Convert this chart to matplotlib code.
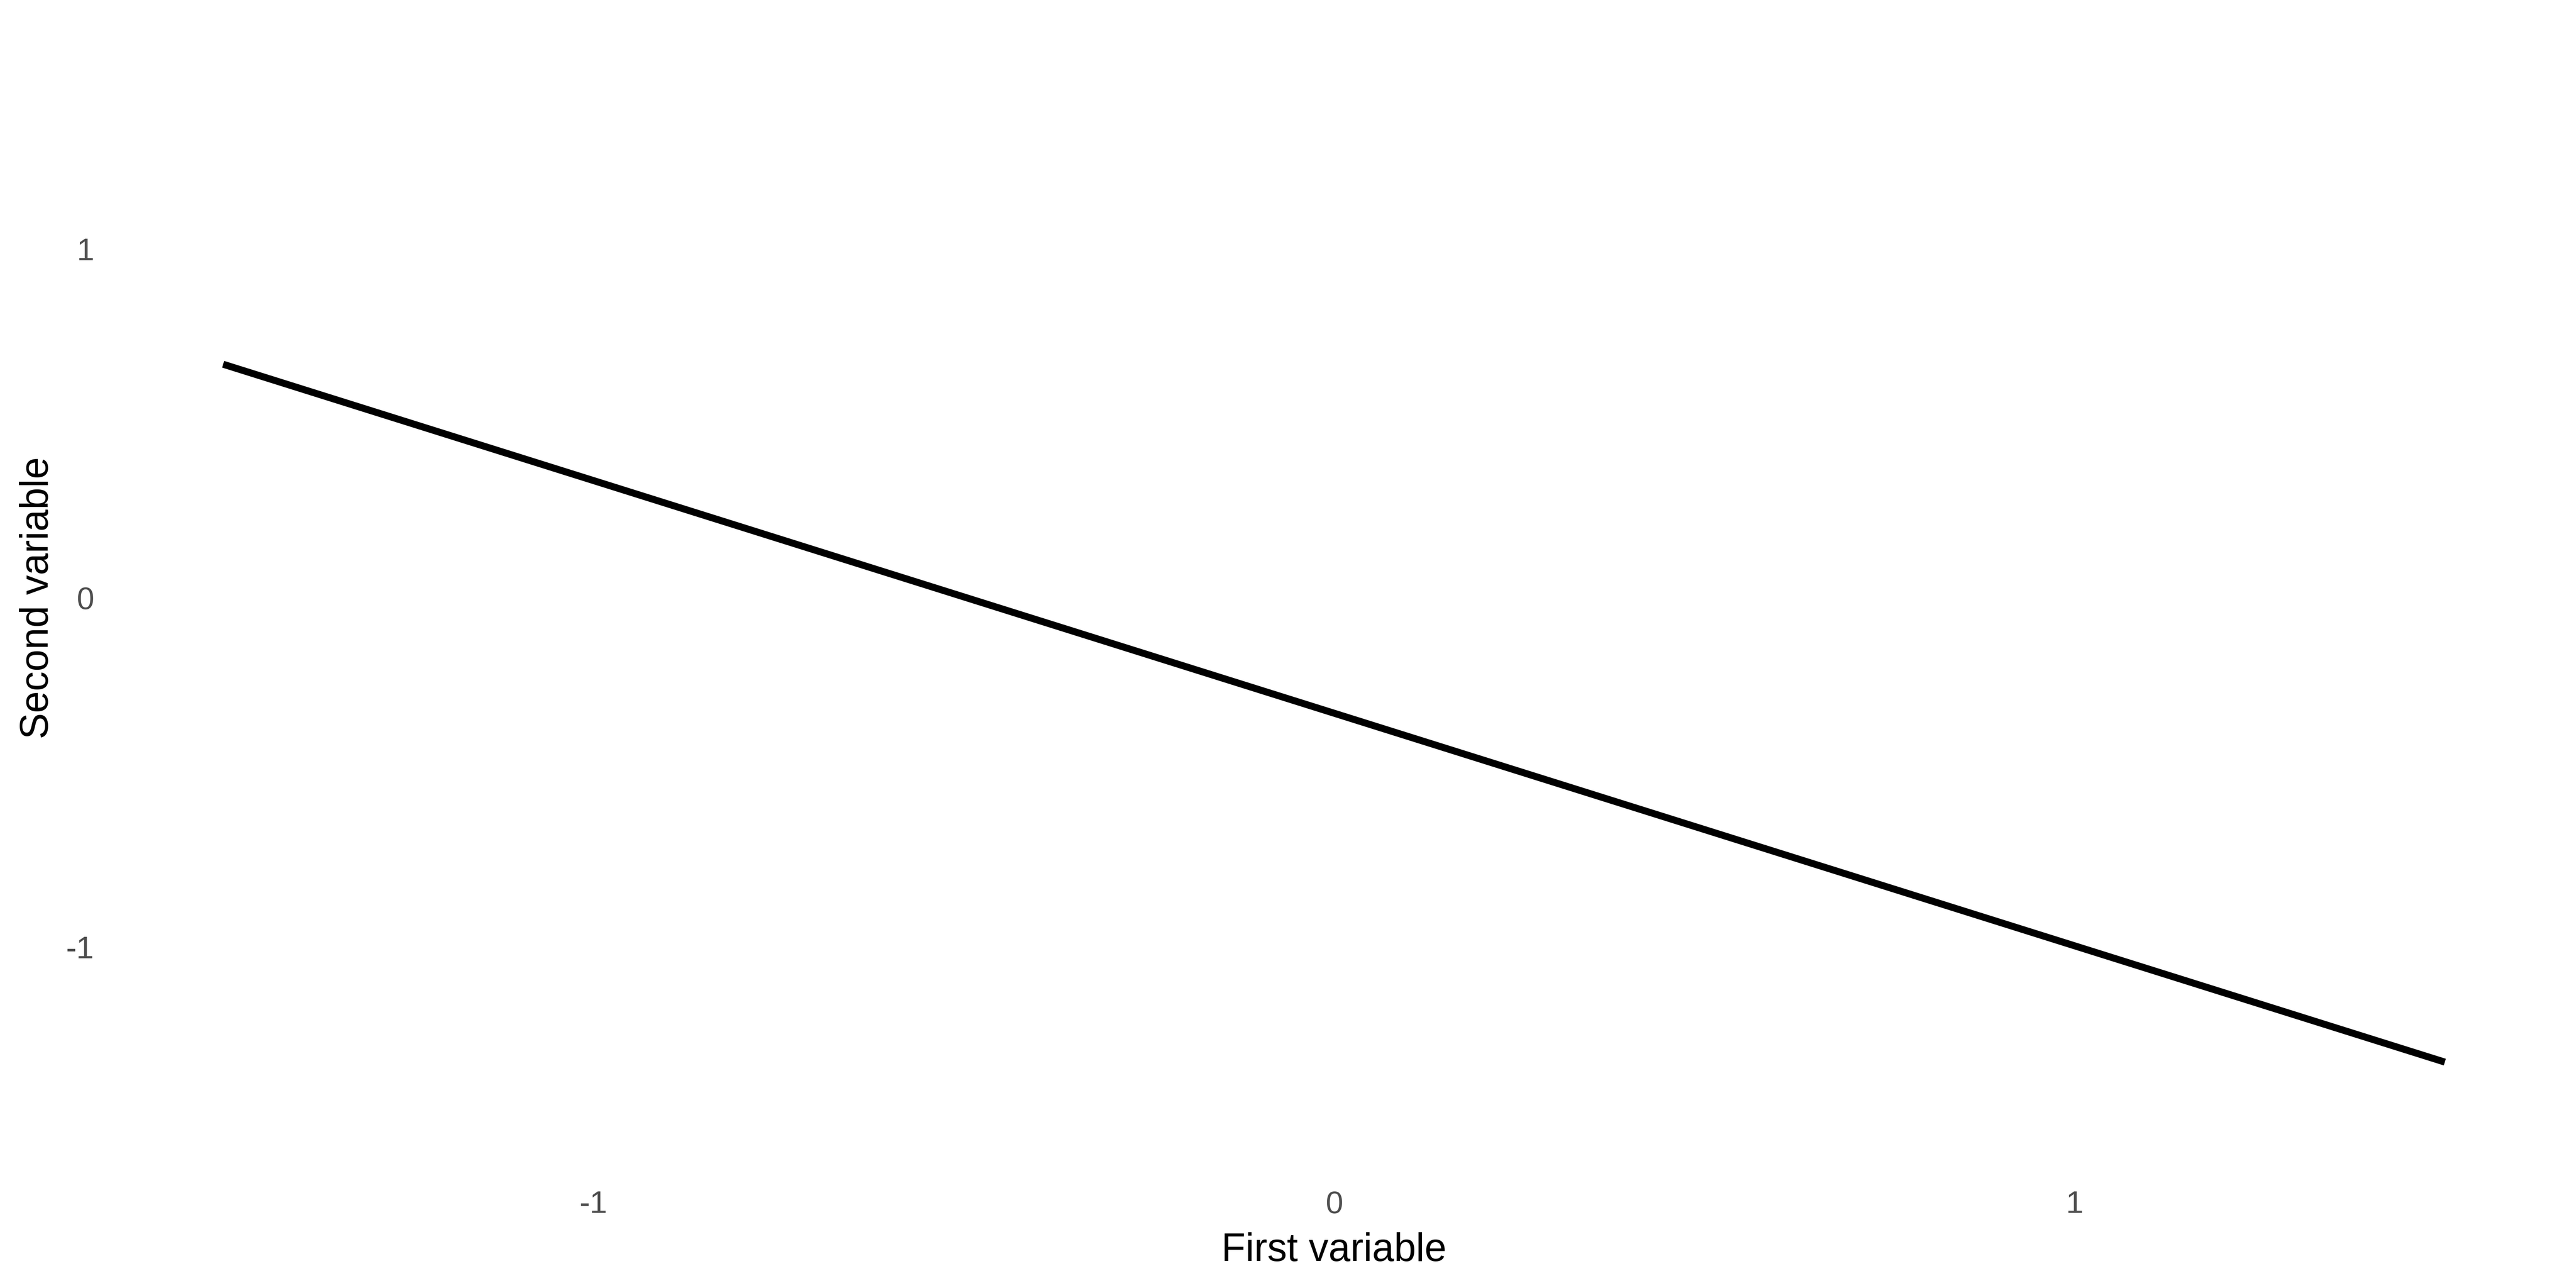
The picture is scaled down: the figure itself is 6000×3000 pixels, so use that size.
#!/usr/bin/env python

import matplotlib
matplotlib.use("Agg")
import matplotlib.pyplot as plt

###
### data
###

x_vals   = [-1.5, 1.5]
y_vals   = [0.67, -1.33]
x_ticks  = [-1, 0, 1]
y_ticks  = [-1, 0, 1]
x_title  = "First variable"
y_title  = "Second variable"

###
### main
###

def main():
    plt.rcParams['font.family'] = ['Liberation Sans', 'DejaVu Sans']

    fig = plt.figure(figsize=(20, 10), dpi=300)
    ax = fig.add_axes([0.0435, 0.0887, 0.9487, 0.894])

    ax.plot(x_vals, y_vals, color='black', linewidth=3.9, solid_capstyle='butt')

    # axis config, minimal theme without grid
    ax.set_xlim(-1.65, 1.65)
    ax.set_ylim(-1.65, 1.65)
    for side in ax.spines.values():
        side.set_visible(False)

    ax.set_xticks(x_ticks)
    ax.set_yticks(y_ticks)
    ax.set_xticklabels([str(t) for t in x_ticks])
    ax.set_yticklabels([str(t) for t in y_ticks])
    ax.tick_params(axis='both', length=0, labelsize=17.6, labelcolor='#4D4D4D')
    ax.tick_params(axis='x', pad=9.5)
    ax.tick_params(axis='y', pad=10)

    ax.set_xlabel(x_title, fontsize=22, color='black')
    ax.set_ylabel(y_title, fontsize=22, color='black')
    ax.xaxis.label.set_va('center')
    ax.yaxis.label.set_va('center')
    ax.xaxis.set_label_coords(0.5, -0.0667)
    ax.yaxis.set_label_coords(-0.0304, 0.5)

    fig.savefig("out.png", dpi=300, facecolor='white')
    plt.close(fig)

if (__name__ == "__main__"):
    main()
